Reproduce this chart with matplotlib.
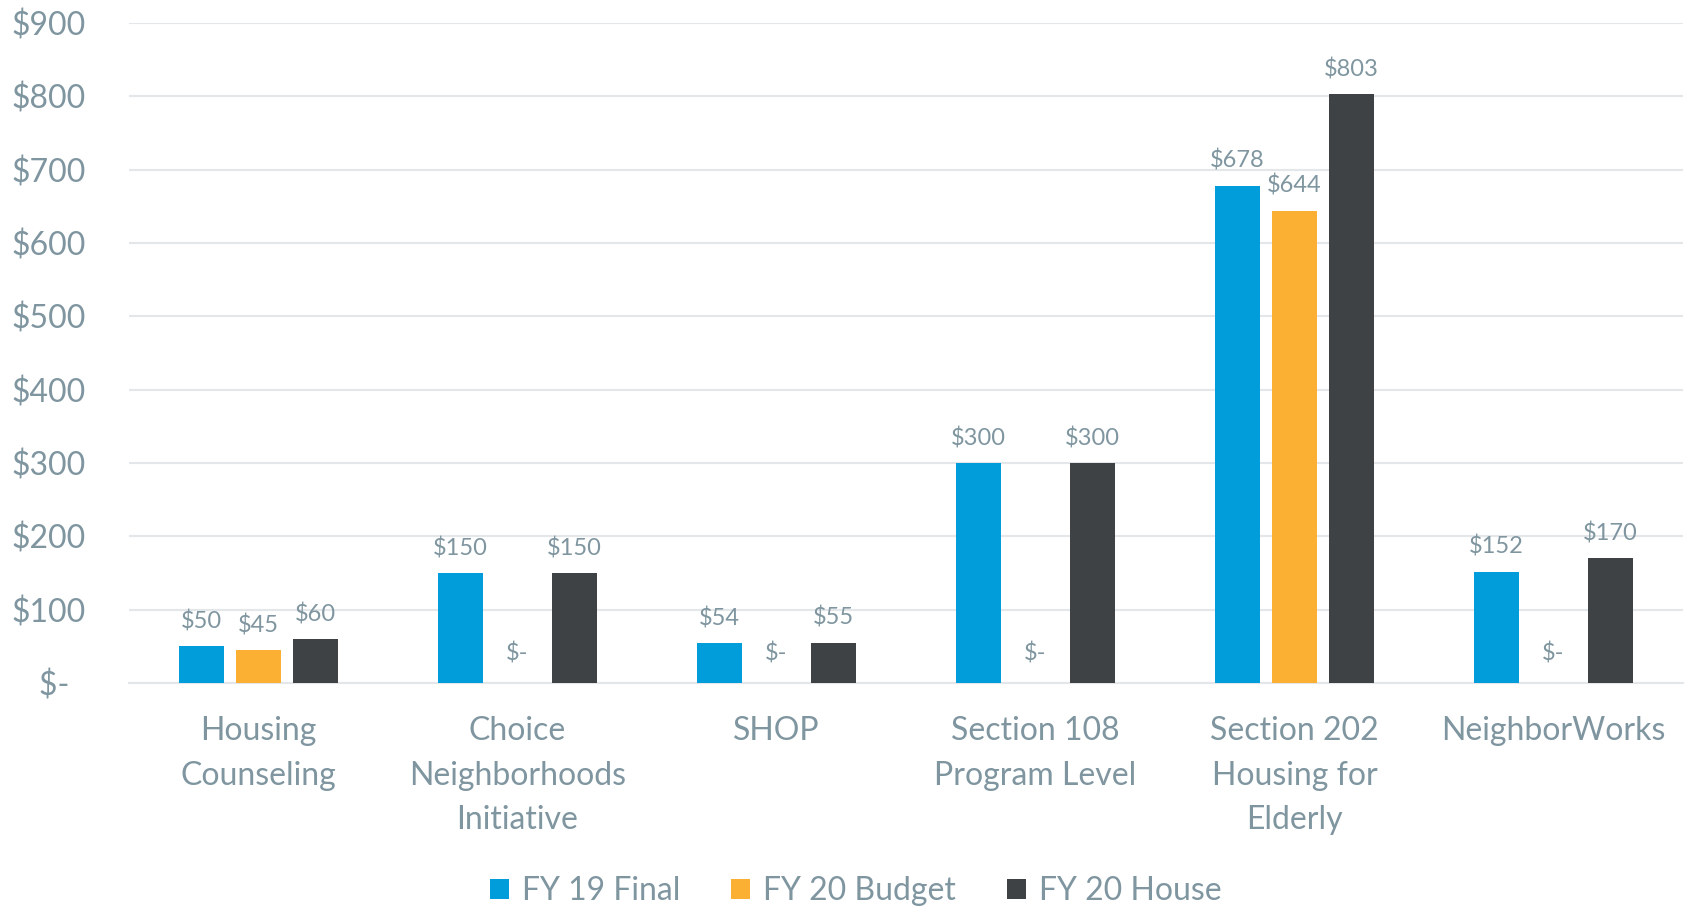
import matplotlib.pyplot as plt
import numpy as np

# datos (millones de dólares)
categorias = ["Housing\nCounseling", "Choice\nNeighborhoods\nInitiative", "SHOP",
              "Section 108\nProgram Level", "Section 202\nHousing for\nElderly", "NeighborWorks"]
series = ["FY 19 Final", "FY 20 Budget", "FY 20 House"]
fy19_final = [50, 150, 54, 300, 678, 152]
fy20_budget = [45, 0, 0, 0, 644, 0]
fy20_house = [60, 150, 55, 300, 803, 170]
y_ticks = [0, 100, 200, 300, 400, 500, 600, 700, 800, 900]

colores = ["#009DDA", "#FBB034", "#3F4244"]
gris = "#7F959F"

plt.rcParams['font.family'] = ['Lato', 'DejaVu Sans']

fig = plt.figure(figsize=(16.88, 9.08), dpi=100)
ax = fig.add_axes([0.0764, 0.2478, 0.9206, 0.7269])

x = np.arange(len(categorias))
ancho = 0.174
paso = 0.22
valores = [fy19_final, fy20_budget, fy20_house]

for i, (vals, nombre, c) in enumerate(zip(valores, series, colores)):
    pos = x + (i - 1) * paso
    ax.bar(pos, vals, width=ancho, color=c, label=nombre, zorder=3)
    for xp, v in zip(pos, vals):
        etiqueta = f"${v}" if v > 0 else "$-"
        ax.annotate(etiqueta, (xp, v), xytext=(0, 10 if v > 0 else 13),
                    textcoords="offset points", ha="center", va="bottom",
                    fontsize=17, color=gris)

ax.set_xlim(-0.5, len(categorias) - 0.5)
ax.set_ylim(0, 900)
ax.set_yticks(y_ticks)
ax.set_yticklabels([f"${v}" if v > 0 else "$-  " for v in y_ticks], fontsize=23, color=gris)
ax.set_xticks(x)
ax.set_xticklabels(categorias, fontsize=23, color=gris, linespacing=1.6, va="top")
ax.tick_params(axis="y", length=0, pad=31)
ax.tick_params(axis="x", length=0, pad=24)

ax.grid(axis="y", color="#E3E7EA", linewidth=1.5, zorder=0)
for s in ["top", "right", "left"]:
    ax.spines[s].set_visible(False)
ax.spines["bottom"].set_color("#E3E7EA")
ax.spines["bottom"].set_linewidth(1.5)

fig.legend(loc="lower center", bbox_to_anchor=(0.507, -0.03), ncol=3, frameon=False,
           fontsize=23, labelcolor=gris, handlelength=0.6, handleheight=0.6,
           handletextpad=0.4, columnspacing=1.6)

fig.savefig("out.png", dpi=100)
